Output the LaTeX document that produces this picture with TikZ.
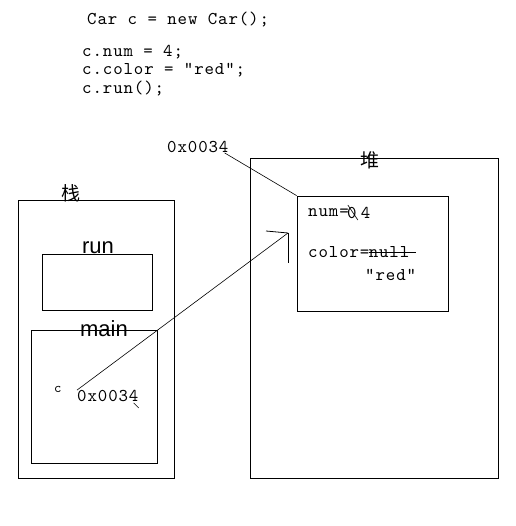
\documentclass[tikz,border=0pt]{standalone}
\usepackage{fontspec}
\newfontfamily\cjkfont{Noto Sans CJK SC}
\newfontfamily\labelfont{Liberation Sans}
\newfontfamily\codefont{lmmono10-regular}[Extension=.otf, LetterSpace=5]
\usetikzlibrary{positioning}

\begin{document}
\begin{tikzpicture}[x=1pt,y=-1pt,
		code/.style={font=\codefont\fontsize{18}{20}\selectfont, anchor=west, inner sep=0pt},
		frame/.style={draw, line width=0.8pt, inner sep=0pt},
		title/.style={font=\labelfont\fontsize{22}{24}\selectfont, inner sep=0pt},
		hanzi/.style={font=\cjkfont\fontsize{19}{21}\selectfont, inner sep=0pt}]
		\useasboundingbox (0,0) rectangle (515,526);
		
		% the code
		\node[code] (newcar) at (87,20) {Car c = new Car();};
		\foreach \line [count=\i] in {{c.num = 4;},{c.color = "red";},{c.run();}}
		{
			\node[code] (line\i) at (82, 33.5+18.5*\i) {\line};
		}
		
		% heap
		\node[frame, minimum width=248, minimum height=320] (heap) at (374,318) {};
		\node[hanzi] (heaplabel) at (370,160) {堆};
		\node[frame, minimum width=151, minimum height=115] (obj) at (372.5,253.5) {};
		\node[code] (addr) at (167,147) {0x0034};
		\draw[line width=0.6pt] ([xshift=-4pt]addr.south east) -- (obj.north west);
		
		\node[code] (num) at (308,213) {num=};
		\node[code, right=-2pt of num] (numold) {0};
		\node[code, right=4pt of numold] (numnew) {4};
		\draw[line width=0.6pt] ([shift={(-4,-8)}]numold.center) -- ([shift={(6,7)}]numold.center);
		\node[code] (color) at (308,252) {color=};
		\node[code, right=-1pt of color] (colorold) {null};
		\draw[line width=0.8pt] (colorold.west) -- ([xshift=6pt]colorold.east);
		\node[code] (colornew) at (365,275) {"red"};
		
		% stack
		\node[frame, minimum width=156, minimum height=278] (stack) at (96,339) {};
		\node[hanzi] (stacklabel) at (71,193) {栈};
		\node[frame, minimum width=110, minimum height=56] (run) at (97,282) {};
		\node[title, anchor=south] (runlabel) at (98,254) {run};
		\node[frame, minimum width=126, minimum height=133] (main) at (94,396.5) {};
		\node[title] (mainlabel) at (104,329) {main};
		
		\node[code, font=\codefont\fontsize{14}{16}\selectfont] (c) at (54,389) {c};
		\node[code] (ptr) at (77,396) {0x0034};
		\draw[line width=0.5pt] ([xshift=-5pt,yshift=-1pt]ptr.south east) -- ++(5,5);
		
		% reference to the object
		\coordinate (tip) at (288,233);
		\draw[line width=0.6pt] (ptr.north west) -- (tip);
		\draw[line width=0.8pt] (tip) -- ++(-22,-2);
		\draw[line width=0.8pt] (tip) -- ++(0,30);
\end{tikzpicture}
\end{document}
